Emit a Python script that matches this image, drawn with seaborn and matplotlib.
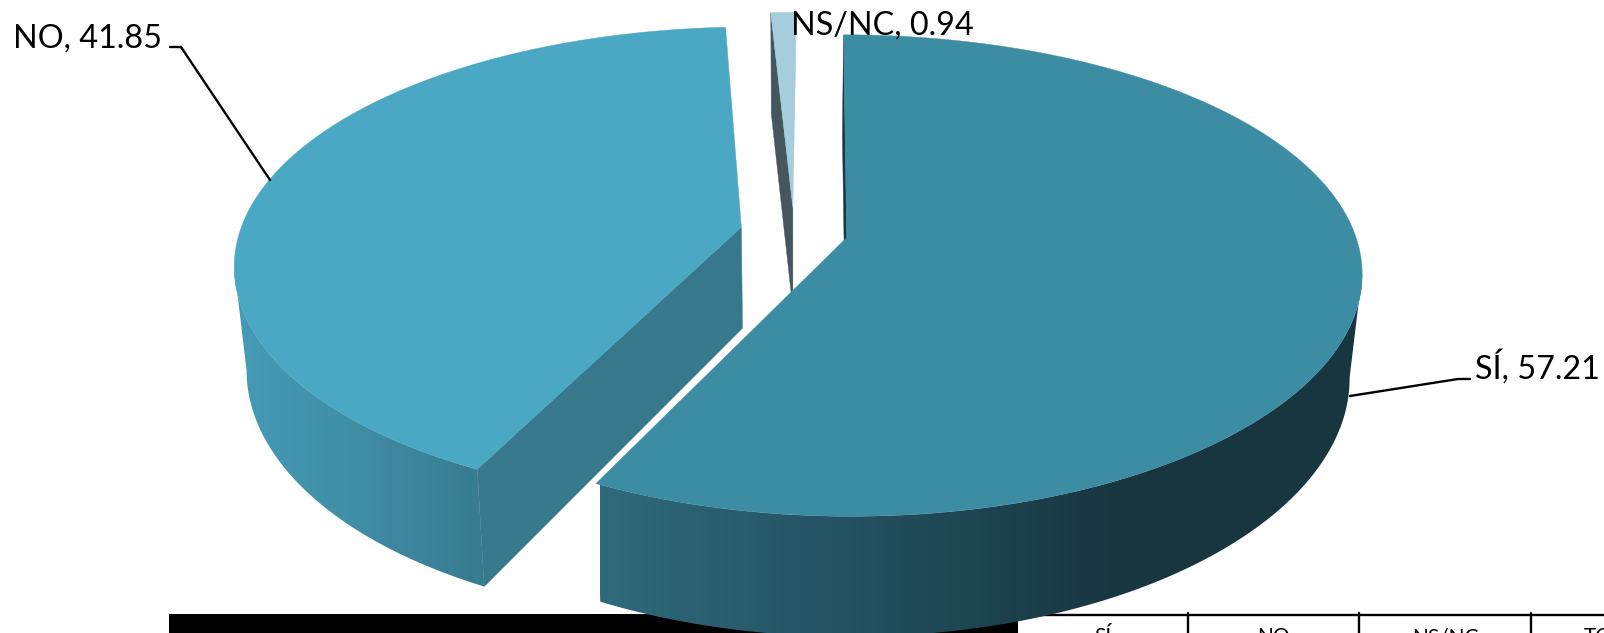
#!/usr/bin/env python

import matplotlib
matplotlib.use("Agg")
import matplotlib.pyplot as plt
from matplotlib.patches import Polygon, Rectangle
import numpy as np
import seaborn as sns

# data
categories = ["SÍ", "NO", "NS/NC"]
values = [57.21, 41.85, 0.94]
table_headers = ["SÍ", "NO", "NS/NC", "TOTAL"]

# look of the slices
top_colors = ["#3C8CA3", "#4AA8C4", "#A5CDDC"]
face_colors = ["#163A45", "#38788C", "#45565F"]
wall_ramps = [["#2F6A7B", "#23505F", "#173640", "#173640"],
              ["#469CB7", "#408DA6", "#367A8E"]]
wall_spans = [(600, 1380), (224, 495)]

# fake 3d pie geometry, all in pixels of the picture
cx, cy = 794, 232
rx, ry = 504.5, 233
persp_x, persp_y = 0.145, 0.157
tilt = -0.005
shear = 4
depth = 101
explode = 0.107
converge = 0.022


def project(x, y, bottom=False):
    x, y = np.asarray(x, float), np.asarray(y, float)
    sx = 1 / (1 + persp_x * y + tilt * x)
    sy = 1 / (1 + persp_y * y)
    px = cx + (rx * x + shear * y) * sx
    py = cy - ry * y * sy
    if bottom:
        py = py + depth * np.maximum(sy, 1)
        px = px + (cx - px) * converge
    return np.column_stack([px, py])


def slice_parts(start, end):
    # angles run clockwise from north
    mid = np.radians((start + end) / 2)
    ax0, ay0 = explode * np.sin(mid), explode * np.cos(mid)
    t = np.radians(np.linspace(start, end, 400))
    ox, oy = ax0 + np.sin(t), ay0 + np.cos(t)
    return ax0, ay0, ox, oy


sns.set_theme(style="white")
plt.rcParams["font.family"] = ["Lato", "DejaVu Sans"]

fig = plt.figure(figsize=(16.04, 6.33), dpi=100)
ax = fig.add_axes([0, 0, 1, 1])

# table behind the pie, cut by the bottom of the picture
ax.add_patch(Rectangle((169, 614), 849, 30, color="black", lw=0, zorder=1))
ax.plot([1018, 1604], [615, 615], color="black", lw=1.7, zorder=1)
table_lines = [1188, 1358.5, 1531]
for x in table_lines:
    ax.plot([x, x], [613, 640], color="black", lw=1.7, zorder=1)
table_centers = [1103, 1273, 1445, 1617]
for x, h in zip(table_centers, table_headers):
    ax.text(x, 643, h, ha="center", va="baseline", fontsize=15, color="black", zorder=1)

edges = np.concatenate([[0], np.cumsum(values)]) * 360 / sum(values)
order = [2, 1, 0]
for n, i in enumerate(order):
    z = 2 + n
    ax0, ay0, ox, oy = slice_parts(edges[i], edges[i + 1])
    top_arc = project(ox, oy)
    bot_arc = project(ox, oy, bottom=True)
    apex_top = project([ax0], [ay0])
    apex_bot = project([ax0], [ay0], bottom=True)

    # only the radial face at the start angle can be seen
    face = np.vstack([apex_top, top_arc[0], bot_arc[0], apex_bot])
    ax.add_patch(Polygon(face, closed=True, fc=face_colors[i], ec=face_colors[i], lw=0.3, zorder=z))

    # outer wall from the silhouette to the front corner, NS/NC faces away
    if i < 2:
        if i == 0:
            k = np.argmax(top_arc[:, 0])
            wall = np.vstack([top_arc[k:], bot_arc[k:][::-1]])
        else:
            k = np.argmin(top_arc[:, 0])
            wall = np.vstack([top_arc[:k + 1], bot_arc[:k + 1][::-1]])
        clip = Polygon(wall, closed=True, fc="none", ec="none", transform=ax.transData)
        ax.add_patch(clip)
        ramp = sns.blend_palette(wall_ramps[i], as_cmap=True)
        x0, x1 = wall_spans[i]
        im = ax.imshow(np.linspace(0, 1, 256).reshape(1, -1), cmap=ramp, aspect="auto",
                       extent=[x0, x1, 640, 0], zorder=z)
        im.set_clip_path(clip)

    # top of the slice
    top = np.vstack([apex_top, top_arc])
    ax.add_patch(Polygon(top, closed=True, fc=top_colors[i], ec=top_colors[i], lw=0.3, zorder=z + 0.5))

# leader lines
ax.plot([170, 181, 270], [47, 47, 180], color="black", lw=1.7, zorder=8, solid_joinstyle="miter")
ax.plot([1350, 1458, 1470], [396, 379, 379], color="black", lw=1.7, zorder=8, solid_joinstyle="miter")

# data labels
label_spots = [(1475, 379), (13, 48), (791, 35)]
for (x, y), c, v in zip(label_spots, categories, values):
    ax.text(x, y, f"{c}, {v:.2f}", ha="left", va="baseline", fontsize=23.3, color="black", zorder=9)

ax.set_xlim(0, 1604)
ax.set_ylim(633, 0)
ax.axis("off")
fig.savefig("out.png", dpi=100)
